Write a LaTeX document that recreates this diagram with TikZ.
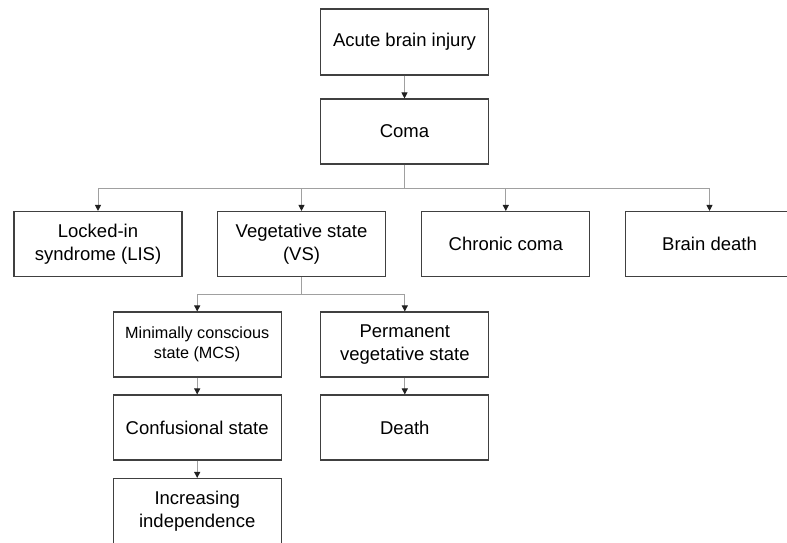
\documentclass[tikz,border=0pt]{standalone}
\usepackage{fontspec}
\setmainfont{Liberation Sans}
\usetikzlibrary{arrows.meta,calc}
\definecolor{boxline}{HTML}{404040}
\definecolor{linkline}{HTML}{A0A0A0}
\definecolor{tipcol}{HTML}{202020}
\begin{document}
\begin{tikzpicture}[x=1pt,y=-1pt,
  statebox/.style={draw=boxline, line width=1.1pt, fill=white,
    minimum width=168pt, minimum height=65pt, inner sep=0pt, align=center,
    font=\fontsize{18.5}{23}\selectfont},
  smalltext/.style={font=\fontsize{16.2}{19.5}\selectfont},
  link/.style={draw=linkline, line width=1pt},
  arr/.style={link, -{Triangle[length=6pt,width=6pt,color=tipcol]}}]
\useasboundingbox (0,0) rectangle (787,543);
\clip (0,0) rectangle (787,543);

% first two levels
\node[statebox, minimum height=66pt] (acute) at (404.5,42) {Acute brain injury};
\node[statebox] (coma) at (404.5,131.5) {Coma};

% outcomes of coma
\node[statebox] (lis) at (98,244) {Locked-in\\syndrome (LIS)};
\node[statebox] (vs) at (301.5,244) {Vegetative state\\(VS)};
\node[statebox] (chronic) at (505.8,244) {Chronic coma};
\node[statebox] (bd) at (709.5,244) {Brain death};

% outcomes of the vegetative state
\node[statebox, smalltext] (mcs) at (197.2,344.5) {Minimally conscious\\state (MCS)};
\node[statebox] (pvs) at (404.8,344.5) {Permanent\\vegetative state};
\node[statebox] (conf) at (197.2,427.5) {Confusional state};
\node[statebox] (death) at (404.8,427.5) {Death};
\node[statebox] (inc) at (197.2,511) {Increasing\\independence};

% connectors
\draw[arr] (acute.south) -- (coma.north);

\coordinate (j1) at ($(coma.south)+(0,23.5)$);
\draw[link] (coma.south) -- (j1);
\draw[arr] (j1) -| (lis.north);
\draw[arr] (j1) -| (vs.north);
\draw[arr] (j1) -| (chronic.north);
\draw[arr] (j1) -| (bd.north);

\coordinate (j2) at ($(vs.south)+(0,17.5)$);
\draw[link] (vs.south) -- (j2);
\draw[arr] (j2) -| (mcs.north);
\draw[arr] (j2) -| (pvs.north);

\draw[arr] (mcs.south) -- (conf.north);
\draw[arr] (pvs.south) -- (death.north);
\draw[arr] (conf.south) -- (inc.north);
\end{tikzpicture}
\end{document}
